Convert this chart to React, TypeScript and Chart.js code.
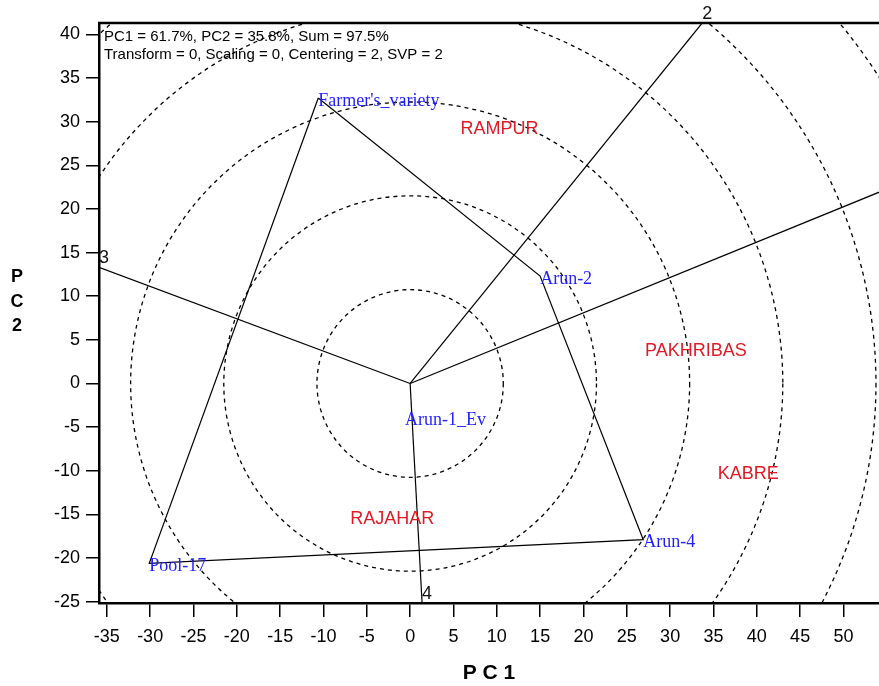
import React, { useEffect, useRef } from "react";
import { Chart, registerables } from "chart.js";

Chart.register(...registerables);

// ---- Data ----
const genotypeNames = ["Farmer's_variety", "Arun-2", "Arun-4", "Pool-17", "Arun-1_Ev"];
const genotypePC1 = [-10.6, 15.0, 26.9, -30.1, -0.6];
const genotypePC2 = [32.7, 12.3, -17.9, -20.6, -3.9];
const polygonOrder = [0, 1, 2, 3, 0];

const environmentNames = ["RAMPUR", "PAKHRIBAS", "KABRE", "RAJAHAR"];
const environmentPC1 = [5.8, 27.1, 35.5, -6.9];
const environmentPC2 = [29.4, 3.9, -10.2, -15.25];

const sectorNames = ["1", "2", "3", "4"];
const sectorEndPC1 = [60, 33.7, -35.9, 1.38];
const sectorEndPC2 = [24.3, 41.3, 13.3, -25.15];

const circleRadii = [10.75, 21.5, 32.25, 43, 53.75, 64.5];

const xTickValues = [-35, -30, -25, -20, -15, -10, -5, 0, 5, 10, 15, 20, 25, 30, 35, 40, 45, 50];
const yTickValues = [-25, -20, -15, -10, -5, 0, 5, 10, 15, 20, 25, 30, 35, 40];

const headerLines = [
  "PC1 = 61.7%, PC2 = 35.8%, Sum = 97.5%",
  "Transform = 0, Scaling = 0, Centering = 2, SVP = 2",
];
const xAxisTitle = "P C 1";
const yAxisTitleLetters = ["P", "C", "2"];

const SANS = "'Liberation Sans', Arial, sans-serif";
const SERIF = "'Liberation Serif', 'Times New Roman', serif";

export default function App() {
  const ref = useRef<HTMLCanvasElement>(null);

  useEffect(() => {
    document.body.style.margin = "0";
    const canvas = ref.current;
    if (!canvas) return;

    const polygon = polygonOrder.map((i) => ({ x: genotypePC1[i], y: genotypePC2[i] }));
    const sectorDatasets = sectorNames.map((n, i) => ({
      label: "Sector " + n,
      data: [
        { x: 0, y: 0 },
        { x: sectorEndPC1[i], y: sectorEndPC2[i] },
      ],
      showLine: true,
      borderColor: "#000",
      borderWidth: 1.2,
      pointRadius: 0,
    }));

    const circlesPlugin = {
      id: "circles",
      beforeDatasetsDraw(chart: any) {
        const { ctx, chartArea, scales } = chart;
        const xs = scales.x;
        const ys = scales.y;
        const cx = xs.getPixelForValue(0);
        const cy = ys.getPixelForValue(0);
        ctx.save();
        ctx.beginPath();
        ctx.rect(chartArea.left, chartArea.top, chartArea.right - chartArea.left, chartArea.bottom - chartArea.top);
        ctx.clip();
        ctx.setLineDash([4, 4]);
        ctx.strokeStyle = "#000";
        ctx.lineWidth = 1.3;
        circleRadii.forEach((r) => {
          const rx = Math.abs(xs.getPixelForValue(r) - cx);
          const ry = Math.abs(ys.getPixelForValue(r) - cy);
          ctx.beginPath();
          ctx.ellipse(cx, cy, rx, ry, 0, 0, Math.PI * 2);
          ctx.stroke();
        });
        ctx.restore();
      },
    };

    const labelsPlugin = {
      id: "labels",
      afterDatasetsDraw(chart: any) {
        const { ctx, chartArea, scales } = chart;
        const xs = scales.x;
        const ys = scales.y;
        ctx.save();
        // genotype labels
        ctx.font = `18px ${SERIF}`;
        ctx.fillStyle = "#1f1fff";
        ctx.textAlign = "left";
        ctx.textBaseline = "middle";
        genotypeNames.forEach((n, i) => {
          ctx.fillText(n, xs.getPixelForValue(genotypePC1[i]), ys.getPixelForValue(genotypePC2[i]) + 3);
        });
        // environment labels
        ctx.font = `18px ${SANS}`;
        ctx.fillStyle = "#e01b24";
        environmentNames.forEach((n, i) => {
          ctx.fillText(n, xs.getPixelForValue(environmentPC1[i]), ys.getPixelForValue(environmentPC2[i]) + 2);
        });
        // sector numbers at line ends
        ctx.font = `18px ${SANS}`;
        ctx.fillStyle = "#111";
        ctx.textBaseline = "bottom";
        sectorNames.forEach((n, i) => {
          ctx.fillText(n, xs.getPixelForValue(sectorEndPC1[i]), ys.getPixelForValue(sectorEndPC2[i]));
        });
        // header text
        ctx.font = `15px ${SANS}`;
        ctx.fillStyle = "#000";
        ctx.textBaseline = "middle";
        headerLines.forEach((t, i) => {
          ctx.fillText(t, chartArea.left + 5, chartArea.top + 14 + i * 18);
        });
        ctx.restore();
      },
      afterDraw(chart: any) {
        const { ctx, chartArea } = chart;
        ctx.save();
        // top frame line
        ctx.strokeStyle = "#000";
        ctx.lineWidth = 2.5;
        ctx.beginPath();
        ctx.moveTo(chartArea.left - 1, chartArea.top);
        ctx.lineTo(chartArea.right, chartArea.top);
        ctx.stroke();
        // stacked y axis title
        ctx.font = `bold 18px ${SANS}`;
        ctx.fillStyle = "#000";
        ctx.textAlign = "center";
        ctx.textBaseline = "middle";
        const midY = (chartArea.top + chartArea.bottom) / 2;
        yAxisTitleLetters.forEach((l, i) => {
          ctx.fillText(l, 17, midY - 11 + (i - 1) * 24.5);
        });
        ctx.restore();
      },
    };

    const chart = new Chart(canvas, {
      type: "scatter",
      data: {
        datasets: [
          {
            label: "Polygon",
            data: polygon,
            showLine: true,
            borderColor: "#000",
            borderWidth: 1.2,
            pointRadius: 0,
          },
          ...sectorDatasets,
        ],
      },
      options: {
        animation: false,
        responsive: false,
        layout: { padding: { top: 23, left: 0, right: 0, bottom: 0 } },
        plugins: {
          legend: { display: false },
          tooltip: { enabled: false },
        },
        scales: {
          x: {
            type: "linear",
            min: -35.9,
            max: 54.1,
            afterBuildTicks: (scale: any) => {
              scale.ticks = xTickValues.map((v) => ({ value: v }));
            },
            afterFit: (scale: any) => {
              scale.height = 83;
            },
            grid: {
              drawOnChartArea: false,
              drawTicks: true,
              tickLength: 14,
              color: "#000",
              lineWidth: 1.5,
            },
            border: { display: true, color: "#000", width: 2.5 },
            ticks: {
              color: "#000",
              font: { family: SANS, size: 18 },
              padding: 9,
              maxRotation: 0,
              autoSkip: false,
            },
            title: {
              display: true,
              text: xAxisTitle,
              color: "#000",
              font: { family: SANS, size: 21, weight: "bold" },
              padding: { top: 0, bottom: 0 },
            },
          },
          y: {
            type: "linear",
            min: -25.15,
            max: 41.3,
            afterBuildTicks: (scale: any) => {
              scale.ticks = yTickValues.map((v) => ({ value: v }));
            },
            afterFit: (scale: any) => {
              scale.width = 99;
            },
            grid: {
              drawOnChartArea: false,
              drawTicks: true,
              tickLength: 13,
              color: "#000",
              lineWidth: 1.5,
            },
            border: { display: true, color: "#000", width: 2.5 },
            ticks: {
              color: "#000",
              font: { family: SANS, size: 18 },
              padding: 6,
              autoSkip: false,
            },
          },
        },
      },
      plugins: [circlesPlugin, labelsPlugin],
    });

    return () => chart.destroy();
  }, []);

  return (
    <div style={{ width: 879, height: 686 }}>
      <canvas ref={ref} width={879} height={686} style={{ display: "block" }} />
    </div>
  );
}
